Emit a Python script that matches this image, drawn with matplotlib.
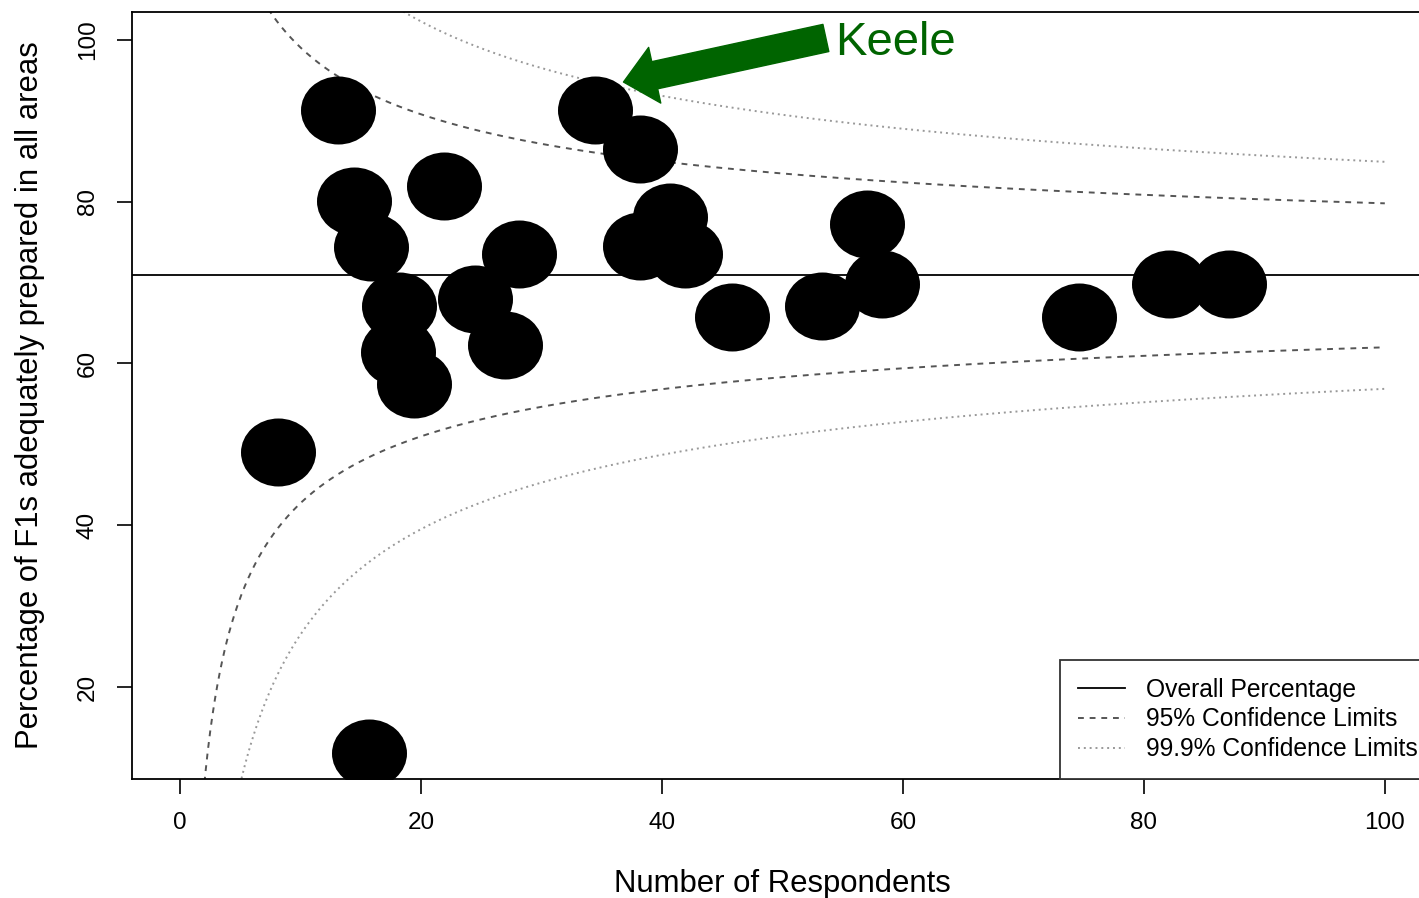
import numpy as np
import matplotlib
matplotlib.use("Agg")
import matplotlib.pyplot as plt
from matplotlib.path import Path
from matplotlib.markers import MarkerStyle

plt.rcParams['font.family'] = ['Liberation Sans', 'DejaVu Sans']

# Data
respondents = [13.1, 34.4, 38.2, 21.9, 14.4, 15.8, 28.1, 40.7, 38.2, 41.9, 57.0,
               24.5, 18.2, 27.0, 18.1, 19.4, 8.1, 45.8, 53.3, 58.3, 74.6, 82.1,
               87.1, 15.7]
percent = [91.3, 91.3, 86.5, 81.9, 80.1, 74.4, 73.5, 78.1, 74.5, 73.5, 77.2,
           68.0, 67.1, 62.3, 61.4, 57.5, 49.1, 65.7, 67.1, 69.8, 65.7, 69.8,
           69.8, 11.8]
overall = 70.9
z95 = 1.96
z999 = 3.09
xticks = [0, 20, 40, 60, 80, 100]
yticks = [20, 40, 60, 80, 100]
legend_labels = ["Overall Percentage", "95% Confidence Limits", "99.9% Confidence Limits"]
arrow_tip = (36.8, 94.8)
arrow_tail = (53.6, 100.25)

W, H = 1419, 898
fig = plt.figure(figsize=(W / 100, H / 100), dpi=100)
ax_w = 1433 - 132
ax = fig.add_axes([132 / W, 1 - 779 / H, ax_w / W, (779 - 12) / H])

n = np.linspace(1, 100, 1000)
p = overall / 100
se = np.sqrt(p * (1 - p) / n) * 100

ax.axhline(overall, color='black', lw=1.3, zorder=2, label=legend_labels[0])
ax.plot(n, overall + z95 * se, color='#555555', lw=1.4, ls=(0, (3, 3)), zorder=2,
        label=legend_labels[1])
ax.plot(n, overall - z95 * se, color='#555555', lw=1.4, ls=(0, (3, 3)), zorder=2)
ax.plot(n, overall + z999 * se, color='#999999', lw=1.4, ls=(0, (1, 2)), zorder=2,
        label=legend_labels[2])
ax.plot(n, overall - z999 * se, color='#999999', lw=1.4, ls=(0, (1, 2)), zorder=2)

circ = Path.unit_circle()
ell = Path(circ.vertices * np.array([1.0, 68 / 75]), circ.codes)
ax.plot(respondents, percent, ls='none', marker=MarkerStyle(ell), markersize=54,
        color='black', markeredgewidth=0, zorder=3)

ax.set_xlim(-4, 104)
ax.set_ylim(8.62, 103.46)
ax.set_xticks(xticks)
ax.set_yticks(yticks)
ax.tick_params(axis='both', length=11, width=1.2, labelsize=17.5, colors='black')
ax.tick_params(axis='x', pad=13)
ax.tick_params(axis='y', pad=13)
for lab in ax.get_yticklabels():
    lab.set_rotation(90)
    lab.set_va('center')
for s in ax.spines.values():
    s.set_linewidth(1.3)
    s.set_color('black')

ax.set_xlabel("Number of Respondents", fontsize=22.4, labelpad=25)
ax.set_ylabel("Percentage of F1s adequately prepared in all areas", fontsize=22.3,
              labelpad=23)

leg = ax.legend(loc='lower right', bbox_to_anchor=(1 + 2 / ax_w, 0),
                fontsize=17.7, fancybox=False, framealpha=1,
                edgecolor='#333333', borderaxespad=0, handlelength=1.9,
                handletextpad=0.85, labelspacing=0.24, borderpad=0.72)
leg.get_frame().set_linewidth(1.3)

ax.annotate('', xy=arrow_tip, xytext=arrow_tail,
            arrowprops=dict(arrowstyle='simple,head_length=2.3,head_width=4.1,tail_width=2.0',
                            mutation_scale=10, color='#006400', shrinkA=0, shrinkB=0),
            zorder=4)
ax.text(54.4, 99.6, "Keele", color='#006400', fontsize=34, ha='left', va='center',
        zorder=4)

fig.savefig("out.png", dpi=100)
